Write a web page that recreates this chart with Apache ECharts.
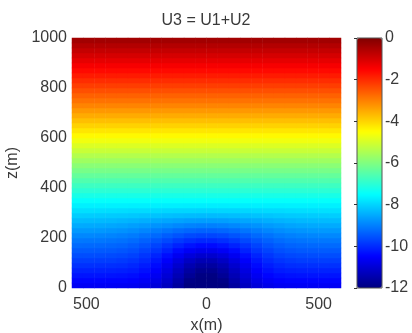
<!DOCTYPE html>
<html>
<head>
<meta charset="utf-8">
<script src="https://cdn.jsdelivr.net/npm/echarts@6/dist/echarts.min.js"></script>
<style>
  html, body { margin: 0; padding: 0; background: #fff; }
  #chart { width: 412px; height: 333px; }
</style>
</head>
<body>
<div id="chart"></div>
<script>
// cell centres (m)
const xCells = [-575, -525, -475, -425, -375, -325, -275, -225, -175, -125, -75, -25,
  25, 75, 125, 175, 225, 275, 325, 375, 425, 475, 525, 575]
const zCells = [10, 30, 50, 70, 90, 110, 130, 150, 170, 190, 210, 230, 250, 270, 290, 310, 330,
  350, 370, 390, 410, 430, 450, 470, 490, 510, 530, 550, 570, 590, 610, 630, 650, 670, 690,
  710, 730, 750, 770, 790, 810, 830, 850, 870, 890, 910, 930, 950, 970, 990]

// |x| of the columns in nearRows (field is symmetric about x = 0)
const halfX = [25, 75, 125, 175, 225, 275, 325, 375, 425, 475, 525, 575]
// U3 near the bottom, rows z = 10 .. 330
const nearRows = [
  [-12.27, -12.02, -11.63, -11.24, -10.94, -10.76, -10.67, -10.64, -10.62, -10.62, -10.62, -10.62],
  [-12.17, -11.92, -11.52, -11.12, -10.80, -10.61, -10.51, -10.47, -10.46, -10.45, -10.45, -10.45],
  [-11.97, -11.74, -11.37, -10.98, -10.67, -10.47, -10.36, -10.31, -10.29, -10.28, -10.28, -10.28],
  [-11.82, -11.60, -11.24, -10.86, -10.54, -10.32, -10.20, -10.15, -10.12, -10.11, -10.11, -10.11],
  [-11.62, -11.42, -11.08, -10.71, -10.40, -10.18, -10.05, -9.98, -9.96, -9.95, -9.94, -9.94],
  [-11.38, -11.20, -10.89, -10.55, -10.25, -10.03, -9.90, -9.83, -9.79, -9.78, -9.77, -9.77],
  [-11.08, -10.92, -10.66, -10.36, -10.09, -9.88, -9.74, -9.67, -9.63, -9.61, -9.60, -9.60],
  [-10.73, -10.61, -10.39, -10.13, -9.89, -9.71, -9.58, -9.50, -9.46, -9.44, -9.43, -9.43],
  [-10.39, -10.29, -10.11, -9.91, -9.71, -9.54, -9.42, -9.34, -9.30, -9.28, -9.27, -9.26],
  [-10.04, -9.96, -9.83, -9.66, -9.50, -9.36, -9.25, -9.18, -9.14, -9.11, -9.10, -9.09],
  [-9.69, -9.64, -9.53, -9.41, -9.27, -9.16, -9.06, -9.00, -8.95, -8.93, -8.91, -8.91],
  [-9.35, -9.30, -9.23, -9.13, -9.03, -8.93, -8.85, -8.79, -8.75, -8.72, -8.71, -8.70],
  [-9.00, -8.97, -8.91, -8.84, -8.77, -8.69, -8.63, -8.58, -8.54, -8.52, -8.50, -8.49],
  [-8.65, -8.63, -8.59, -8.55, -8.50, -8.45, -8.40, -8.36, -8.33, -8.31, -8.30, -8.29],
  [-8.30, -8.29, -8.27, -8.24, -8.21, -8.18, -8.15, -8.13, -8.11, -8.10, -8.09, -8.08],
  [-8.00, -7.99, -7.98, -7.97, -7.95, -7.93, -7.92, -7.90, -7.89, -7.88, -7.87, -7.87],
  [-7.70, -7.70, -7.69, -7.69, -7.68, -7.68, -7.68, -7.67, -7.67, -7.66, -7.66, -7.66]
]
// rows z = 350 .. 990, level across x
const upperProfile = [-7.45, -7.23, -7.00, -6.78, -6.56, -6.33, -6.11, -5.88, -5.64, -5.40,
  -5.15, -4.91, -4.67, -4.43, -4.20, -3.97, -3.74, -3.51, -3.28, -3.05, -2.84, -2.64, -2.43,
  -2.22, -2.02, -1.81, -1.60, -1.40, -1.20, -1.00, -0.80, -0.60, -0.40]

const xTicks = [-500, 0, 500]
const cMin = -12
const cMax = 0
const jet = ['#000080', '#0000ff', '#0080ff', '#00ffff', '#80ff80', '#ffff00', '#ff8000', '#ff0000', '#800000']

const textColor = '#3a3a3a'
const font = 'Liberation Sans, Arial, sans-serif'

const cells = []
zCells.forEach(function(z, i) {
  xCells.forEach(function(x, j) {
    let v
    if (i < nearRows.length) {
      v = nearRows[i][halfX.indexOf(Math.abs(x))]
    } else {
      v = upperProfile[i - nearRows.length]
    }
    // colour limits like caxis([-12 0])
    cells.push([j, i, Math.max(cMin, Math.min(cMax, v))])
  })
})

const chart = echarts.init(document.getElementById('chart'))
chart.setOption({
  animation: false,
  backgroundColor: '#fff',
  title: {
    text: 'U3 = U1+U2',
    left: 'center',
    top: 13,
    padding: 0,
    textStyle: { fontFamily: font, fontSize: 16, fontWeight: 'normal', color: textColor }
  },
  grid: [
    { left: 72, top: 38, width: 269, height: 250, containLabel: false, outerBoundsMode: 'none' },
    { left: 357, top: 38, width: 25, height: 250, containLabel: false, outerBoundsMode: 'none',
      show: true, backgroundColor: 'transparent', borderColor: '#555', borderWidth: 1, z: 10 }
  ],
  xAxis: [
    { type: 'category', gridIndex: 0, data: xCells, show: false, position: 'top' },
    {
      type: 'value', gridIndex: 0, min: -600, max: 600, position: 'bottom',
      axisLine: { show: false },
      axisTick: { show: false },
      splitLine: { show: false },
      axisLabel: {
        customValues: xTicks,
        // the picture prints the left tick without its minus sign, a bit to the left
        formatter: function(v) { return v < 0 ? '{l|' + Math.abs(v) + '}' : String(v) },
        rich: { l: { fontFamily: font, fontSize: 16, color: textColor, padding: [0, 16, 0, 0] } },
        color: textColor, fontFamily: font, fontSize: 16, margin: 9
      },
      name: 'x(m)', nameLocation: 'middle', nameGap: 26,
      nameTextStyle: { color: textColor, fontFamily: font, fontSize: 16 }
    },
    { type: 'value', gridIndex: 1, min: 0, max: 1, show: false }
  ],
  yAxis: [
    { type: 'category', gridIndex: 0, data: zCells, show: false, position: 'right' },
    {
      type: 'value', gridIndex: 0, min: 0, max: 1000, interval: 200, position: 'left',
      axisLine: { show: false },
      axisTick: { show: false },
      splitLine: { show: false },
      axisLabel: {
        formatter: function(v) { return String(v) },
        color: textColor, fontFamily: font, fontSize: 16, margin: 5
      },
      name: 'z(m)', nameLocation: 'middle', nameGap: 41,
      nameTextStyle: { color: textColor, fontFamily: font, fontSize: 16 }
    },
    {
      type: 'value', gridIndex: 1, min: cMin, max: cMax, interval: 2, position: 'right', z: 10,
      axisLine: { show: false },
      axisTick: { show: true, inside: true, length: 3, lineStyle: { color: '#333' } },
      splitLine: { show: false },
      axisLabel: { color: textColor, fontFamily: font, fontSize: 16, margin: 3 }
    }
  ],
  visualMap: {
    type: 'continuous',
    min: cMin,
    max: cMax,
    seriesIndex: 0,
    calculable: false,
    orient: 'vertical',
    left: 357,
    top: 38,
    padding: 0,
    itemWidth: 25,
    itemHeight: 250,
    z: 1,
    inRange: { color: jet }
  },
  series: [{
    type: 'heatmap',
    xAxisIndex: 0,
    yAxisIndex: 0,
    data: cells,
    itemStyle: { borderWidth: 0 },
    emphasis: { disabled: true },
    progressive: 0
  }]
})
</script>
</body>
</html>
